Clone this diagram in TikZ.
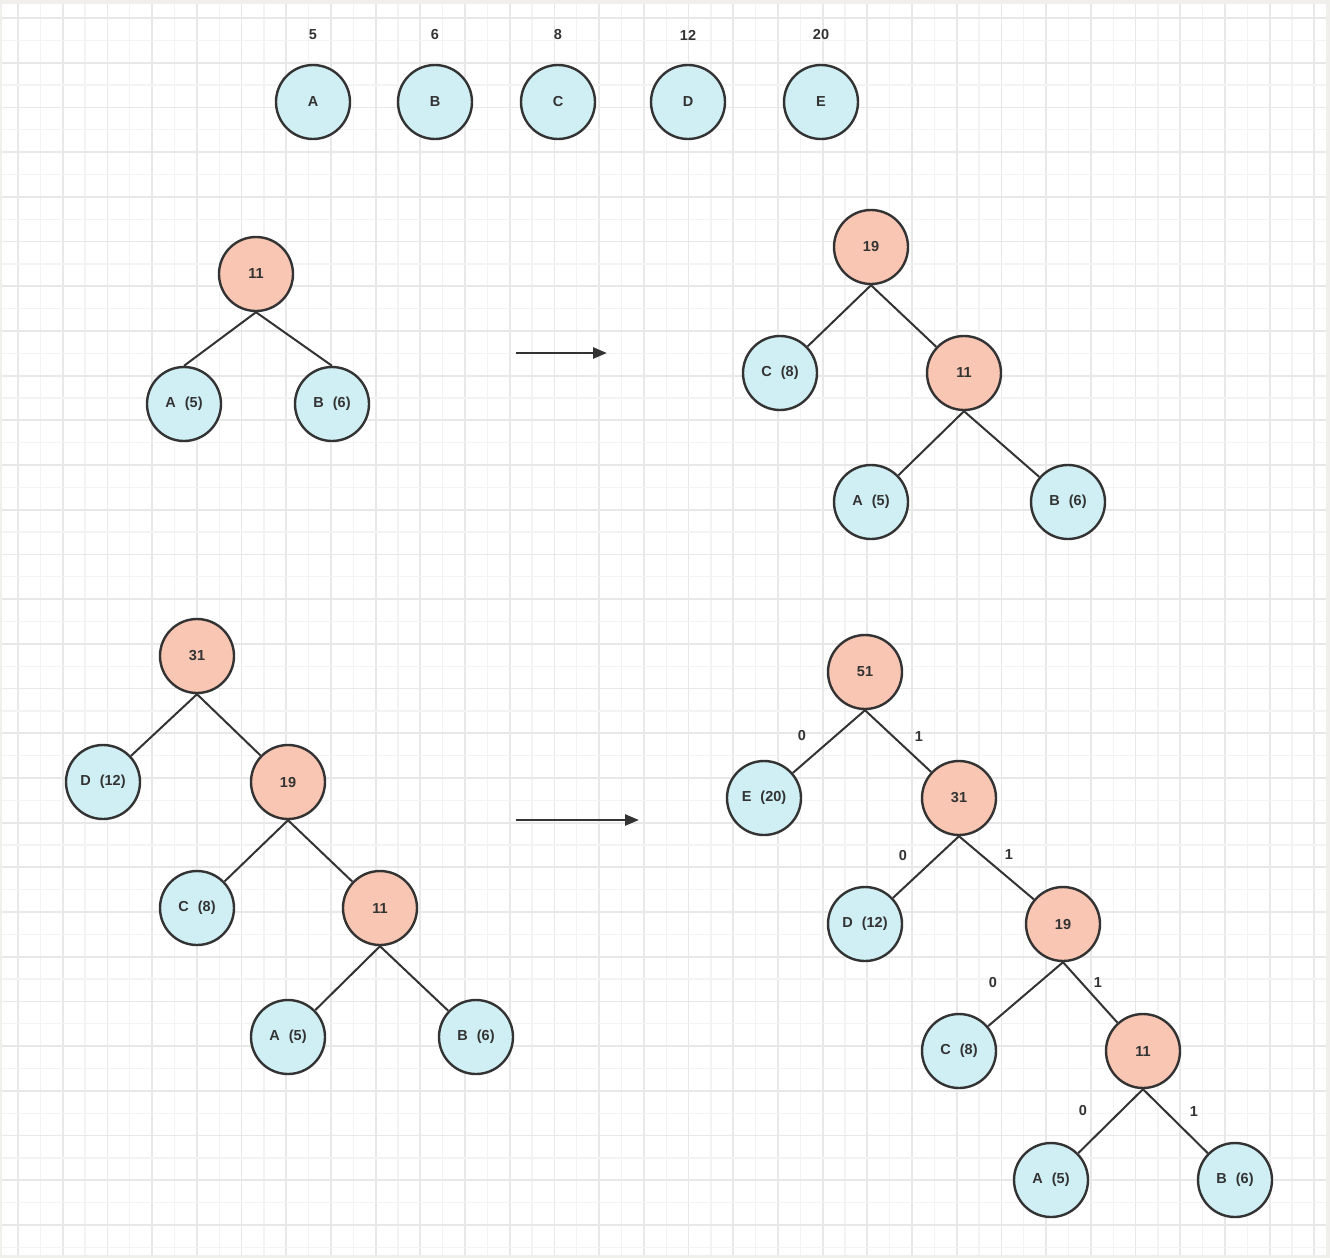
\documentclass[tikz,border=0pt]{standalone}
\usepackage{fontspec}
\setmainfont{Liberation Sans}
\usetikzlibrary{arrows.meta}

\definecolor{leafblue}{HTML}{D0EFF5}
\definecolor{sumpink}{HTML}{F9C6B3}
\definecolor{inkgray}{HTML}{333333}
\definecolor{gridminor}{HTML}{F3F3F3}
\definecolor{gridmajor}{HTML}{E8E8E8}
\definecolor{framegray}{HTML}{F0EFEB}

\tikzset{
  leaf/.style={circle, draw=inkgray, line width=2.4pt, fill=leafblue,
    minimum size=74pt, inner sep=0pt, text=inkgray,
    font=\fontsize{14.5}{16}\selectfont\bfseries},
  sum/.style={leaf, fill=sumpink},
  weight/.style={text=inkgray, font=\fontsize{14.5}{16}\selectfont\bfseries},
  bit/.style={weight},
  branch/.style={draw=inkgray, line width=2pt},
  goesto/.style={draw=inkgray, line width=2.6pt, -{Triangle[length=14pt,width=11pt]}}
}
\newcommand{\pair}[2]{#1\hspace{9pt}(#2)\hspace{6pt}}

\begin{document}
\begin{tikzpicture}[x=1pt,y=-1pt]
  \useasboundingbox (0,0) rectangle (1330,1258);
  % Paper and grid
  \fill[framegray] (0,0) rectangle (1330,1258);
  \fill[white] (2,4) rectangle (1326,1255);
  \foreach \k in {0,...,58} {
    \pgfmathsetmacro{\gx}{18+22.35*\k}
    \pgfmathtruncatemacro{\odd}{mod(\k,2)}
    \ifnum\odd=0
      \draw[gridmajor, line width=1.8pt] (\gx,4) -- (\gx,1255);
    \else
      \draw[gridminor, line width=1.3pt] (\gx,4) -- (\gx,1255);
    \fi
  }
  \foreach \k in {0,...,55} {
    \pgfmathsetmacro{\gy}{18+22.35*\k}
    \pgfmathtruncatemacro{\odd}{mod(\k,2)}
    \ifnum\odd=0
      \draw[gridmajor, line width=1.8pt] (2,\gy) -- (1326,\gy);
    \else
      \draw[gridminor, line width=1.3pt] (2,\gy) -- (1326,\gy);
    \fi
  }

  % Initial weights
  \foreach \ch/\w/\x in {A/5/313, B/6/435, C/8/558, D/12/688, E/20/821} {
    \node[leaf] (init\ch) at (\x,102) {\ch};
    \node[weight] (w\ch) at (\x,35) {\w};
  }

  % Step 1: A + B
  \node[sum] (sa) at (256,274) {11};
  \node[leaf] (saA) at (184,404) {\pair{A}{5}};
  \node[leaf] (saB) at (332,404) {\pair{B}{6}};
  \draw[branch] (sa.south) -- (saA.north);
  \draw[branch] (sa.south) -- (saB.north);

  \coordinate (ga1) at (516,353);
  \coordinate (ga2) at (607,353);
  \draw[goesto] (ga1) -- (ga2);

  % Step 2: C + 11
  \node[sum] (sb) at (871,247) {19};
  \node[leaf] (sbC) at (780,373) {\pair{C}{8}};
  \node[sum] (sbs) at (964,373) {11};
  \node[leaf] (sbA) at (871,502) {\pair{A}{5}};
  \node[leaf] (sbB) at (1068,502) {\pair{B}{6}};
  \draw[branch] (sb.south) -- (sbC);
  \draw[branch] (sb.south) -- (sbs);
  \draw[branch] (sbs.south) -- (sbA);
  \draw[branch] (sbs.south) -- (sbB);

  % Step 3: D + 19
  \node[sum] (sc) at (197,656) {31};
  \node[leaf] (scD) at (103,782) {\pair{D}{12}};
  \node[sum] (scs) at (288,782) {19};
  \node[leaf] (scC) at (197,908) {\pair{C}{8}};
  \node[sum] (scss) at (380,908) {11};
  \node[leaf] (scA) at (288,1037) {\pair{A}{5}};
  \node[leaf] (scB) at (476,1037) {\pair{B}{6}};
  \draw[branch] (sc.south) -- (scD);
  \draw[branch] (sc.south) -- (scs);
  \draw[branch] (scs.south) -- (scC);
  \draw[branch] (scs.south) -- (scss);
  \draw[branch] (scss.south) -- (scA);
  \draw[branch] (scss.south) -- (scB);

  \coordinate (gb1) at (516,820);
  \coordinate (gb2) at (639,820);
  \draw[goesto] (gb1) -- (gb2);

  % Step 4: E + 31, with codes
  \node[sum] (sd) at (865,672) {51};
  \node[leaf] (sdE) at (764,798) {\pair{E}{20}};
  \node[sum] (sds) at (959,798) {31};
  \node[leaf] (sdD) at (865,924) {\pair{D}{12}};
  \node[sum] (sdss) at (1063,924) {19};
  \node[leaf] (sdC) at (959,1051) {\pair{C}{8}};
  \node[sum] (sdsss) at (1143,1051) {11};
  \node[leaf] (sdA) at (1051,1180) {\pair{A}{5}};
  \node[leaf] (sdB) at (1235,1180) {\pair{B}{6}};
  \draw[branch] (sd.south) -- (sdE);
  \draw[branch] (sd.south) -- (sds);
  \draw[branch] (sds.south) -- (sdD);
  \draw[branch] (sds.south) -- (sdss);
  \draw[branch] (sdss.south) -- (sdC);
  \draw[branch] (sdss.south) -- (sdsss);
  \draw[branch] (sdsss.south) -- (sdA);
  \draw[branch] (sdsss.south) -- (sdB);

  \node[bit] (bE) at (802,735) {0};
  \node[bit] (bs) at (919,737) {1};
  \node[bit] (bD) at (903,855) {0};
  \node[bit] (bss) at (1009,855) {1};
  \node[bit] (bC) at (993,982) {0};
  \node[bit] (bsss) at (1098,982) {1};
  \node[bit] (bA) at (1083,1110) {0};
  \node[bit] (bB) at (1194,1111) {1};
\end{tikzpicture}
\end{document}
